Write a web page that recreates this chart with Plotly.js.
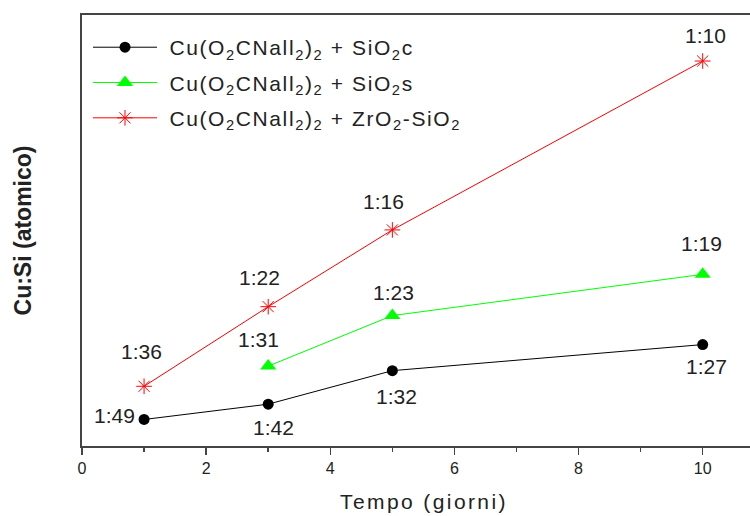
<!DOCTYPE html>
<html>
<head>
<meta charset="utf-8">
<script src="https://cdn.plot.ly/plotly-3.0.1.min.js"></script>
<style>
  html, body { margin: 0; padding: 0; background: #fff; }
  #chart { width: 750px; height: 516px; }
  .xtitle { letter-spacing: 2.4px; transform: translate(8px, 0px); }
  .legendtext { letter-spacing: 1.6px; }
</style>
</head>
<body>
<div id="chart"></div>
<script>
// Cu:Si atomic ratio versus time; each ratio is 1 Cu for N Si atoms.
const daysC = [1, 3, 5, 10];
const siPerCuC = [49, 42, 32, 27];

const daysS = [3, 5, 10];
const siPerCuS = [31, 23, 19];

const daysZ = [1, 3, 5, 10];
const siPerCuZ = [36, 22, 16, 10];

const seriesNames = [
  'Cu(O<sub>2</sub>CNall<sub>2</sub>)<sub>2</sub> + SiO<sub>2</sub>c',
  'Cu(O<sub>2</sub>CNall<sub>2</sub>)<sub>2</sub> + SiO<sub>2</sub>s',
  'Cu(O<sub>2</sub>CNall<sub>2</sub>)<sub>2</sub> + ZrO<sub>2</sub>-SiO<sub>2</sub>'
];

const xTickVals = [0, 2, 4, 6, 8, 10];

// pixel offsets of each ratio label from its point: [dx, dy, xanchor]
const labelOffsetsC = [[-7, 4, 'right'], [5, -23, 'center'], [4, -26, 'center'], [4, -22, 'center']];
const labelOffsetsS = [[-10, 27, 'center'], [1, 23, 'center'], [-1, 31, 'center']];
const labelOffsetsZ = [[-3, 35, 'center'], [-9, 29, 'center'], [-9, 28, 'center'], [3, 26, 'center']];

const ratio = n => 1 / n;
const FONT = 'Liberation Sans, Arial, sans-serif';
const TEXT = '#222';
const AXIS = '#444';
const NBSP = '\u00a0';

const traces = [
  {
    x: daysC, y: siPerCuC.map(ratio), name: NBSP + seriesNames[0], legendgroup: 'c',
    mode: 'lines+markers', line: {color: '#000', width: 1},
    marker: {symbol: 'circle', size: 11, color: '#000'}
  },
  {
    x: daysS, y: siPerCuS.map(ratio), name: NBSP + seriesNames[1], legendgroup: 's',
    mode: 'lines+markers', line: {color: '#00ff00', width: 1},
    marker: {symbol: 'triangle-up', size: 14, color: '#00ff00'}
  },
  {
    x: daysZ, y: siPerCuZ.map(ratio), name: NBSP + seriesNames[2], legendgroup: 'z',
    mode: 'lines+markers', line: {color: '#ff0000', width: 1},
    marker: {symbol: 'asterisk-open', size: 13, color: '#ff0000', line: {color: '#ff0000', width: 1}}
  }
];

function ratioLabels(days, siPerCu, offsets) {
  return days.map((d, i) => ({
    x: d, y: ratio(siPerCu[i]), xref: 'x', yref: 'y',
    text: '1:' + siPerCu[i], showarrow: false,
    xanchor: offsets[i][2], yanchor: 'middle',
    xshift: offsets[i][0], yshift: offsets[i][1],
    font: {family: FONT, size: 21, color: TEXT}
  }));
}

const layout = {
  width: 750, height: 516,
  margin: {l: 82, r: 0, t: 15, b: 70.3},
  paper_bgcolor: '#fff', plot_bgcolor: '#fff',
  showlegend: true,
  legend: {
    x: 0.009, y: 0.972, xanchor: 'left', yanchor: 'top',
    bgcolor: 'rgba(0,0,0,0)', borderwidth: 0,
    itemwidth: 64, tracegroupgap: 5,
    font: {family: FONT, size: 21, color: TEXT}
  },
  xaxis: {
    range: [0, 10.762], tickvals: xTickVals, ticktext: xTickVals.map(String),
    showgrid: false, zeroline: false,
    showline: true, linecolor: AXIS, linewidth: 2, mirror: true,
    ticks: 'outside', ticklen: 7, tickwidth: 1.5, tickcolor: AXIS,
    minor: {dtick: 1, ticks: 'outside', ticklen: 4, tickwidth: 1.5, tickcolor: AXIS, showgrid: false},
    tickfont: {family: FONT, size: 16, color: TEXT},
    title: {text: 'Tempo (giorni)', font: {family: FONT, size: 21, color: TEXT}, standoff: 18}
  },
  yaxis: {
    range: [0.01452, 0.110221],
    showgrid: false, zeroline: false, showticklabels: false, ticks: '',
    showline: true, linecolor: AXIS, linewidth: 2, mirror: false,
    title: {text: 'Cu:Si (atomico)', font: {family: FONT, size: 23, color: TEXT, weight: 'bold'}, standoff: 42}
  },
  annotations: [
    ...ratioLabels(daysC, siPerCuC, labelOffsetsC),
    ...ratioLabels(daysS, siPerCuS, labelOffsetsS),
    ...ratioLabels(daysZ, siPerCuZ, labelOffsetsZ)
  ]
};

Plotly.newPlot('chart', traces, layout, {staticPlot: true, displayModeBar: false});
</script>
</body>
</html>
